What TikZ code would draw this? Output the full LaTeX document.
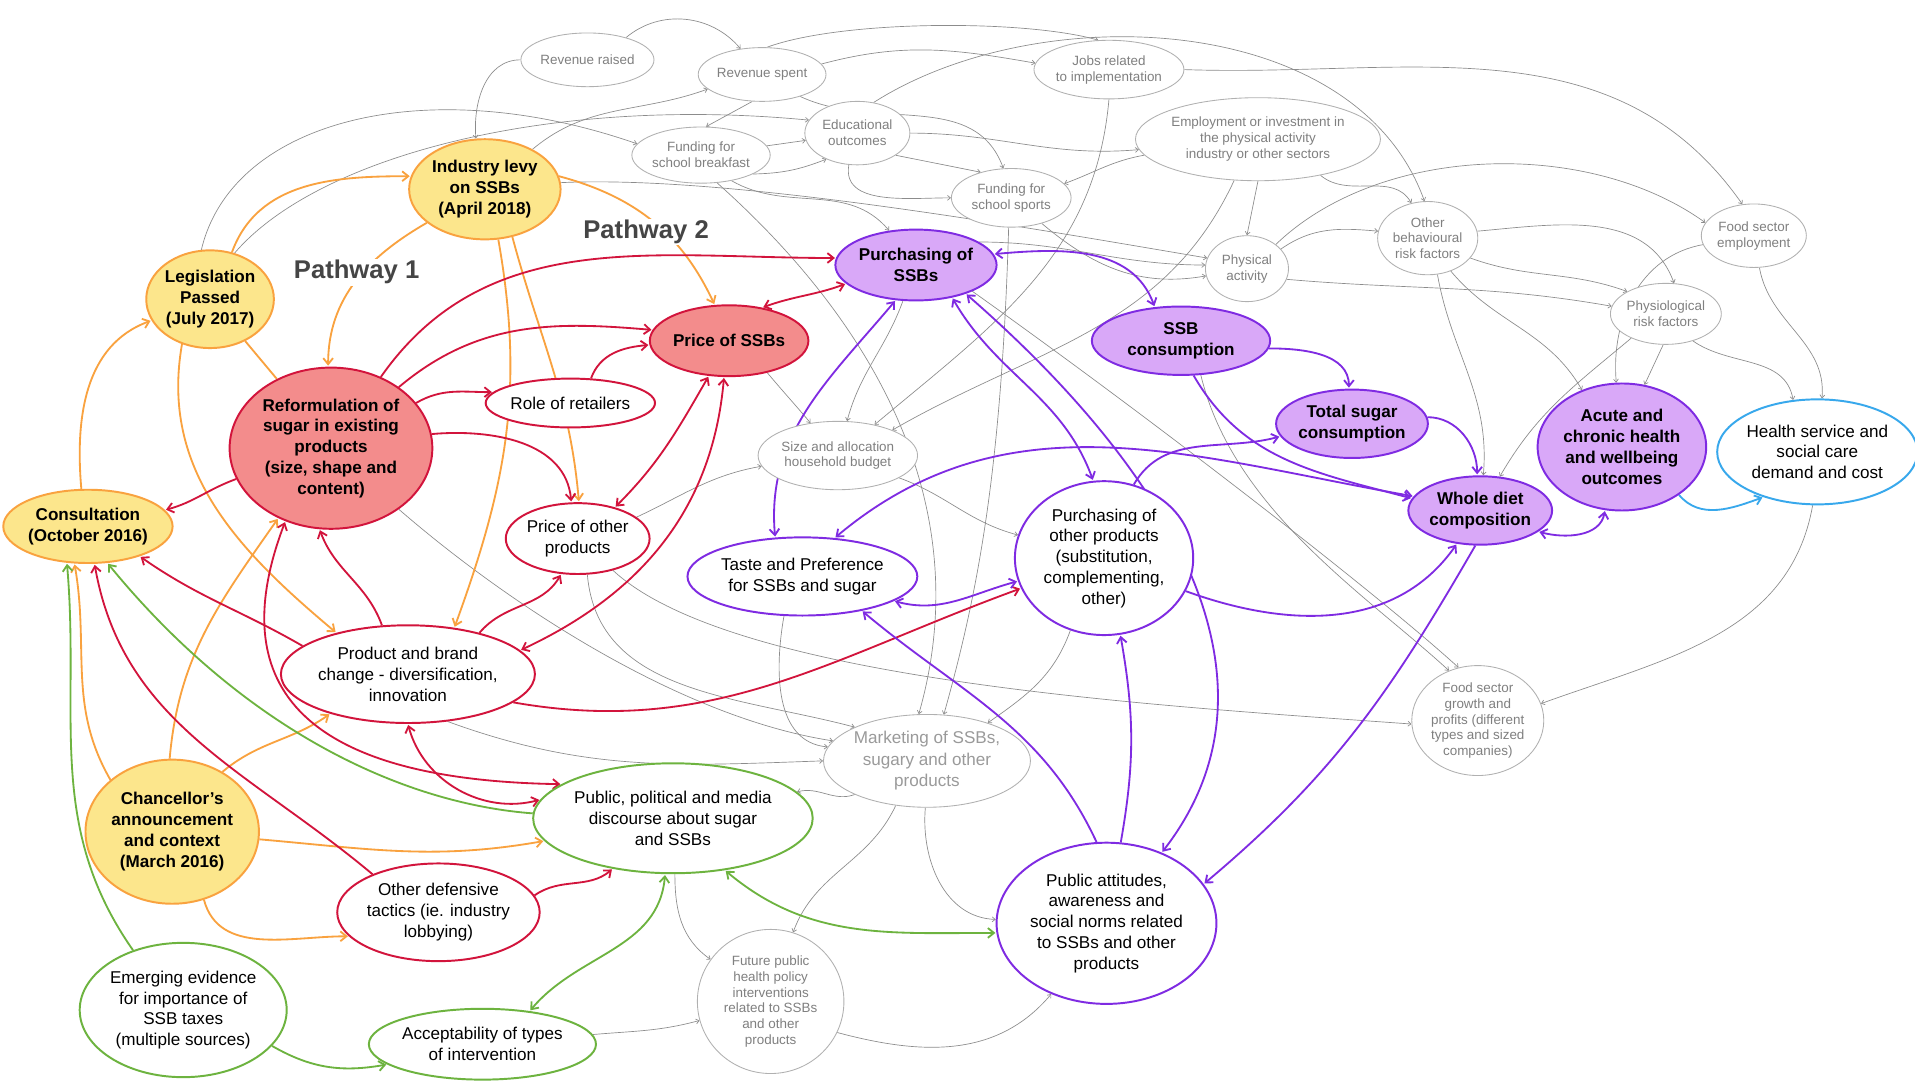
\documentclass[tikz,border=0pt]{standalone}
\usepackage{fontspec}
\setmainfont{Liberation Sans}
\usetikzlibrary{shapes.geometric,arrows.meta,backgrounds}

\definecolor{levyyellow}{HTML}{FCE68C}
\definecolor{levyorange}{HTML}{F9A23F}
\definecolor{reformred}{HTML}{F38C8C}
\definecolor{crimson}{HTML}{D2143C}
\definecolor{lilac}{HTML}{D9A8F8}
\definecolor{ssbpurple}{HTML}{7F2BE2}
\definecolor{leafgreen}{HTML}{6DB33F}
\definecolor{skyblue}{HTML}{38A8EC}
\definecolor{webgrey}{HTML}{8C8C8C}
\definecolor{ringgrey}{HTML}{B0B0B0}
\definecolor{minortext}{HTML}{808080}
\definecolor{pathgrey}{HTML}{454545}

\tikzset{
  dims/.style 2 args={minimum width=#1pt,minimum height=#2pt},
  factor/.style={ellipse,inner sep=0pt,align=center,line width=1.6pt,font=\fontsize{14}{17}\selectfont},
  keyfactor/.style={factor,font=\bfseries\fontsize{14}{17}\selectfont},
  policy/.style={keyfactor,draw=levyorange,fill=levyyellow},
  industry/.style={keyfactor,draw=crimson,fill=reformred},
  industryring/.style={factor,draw=crimson,fill=white},
  intake/.style={keyfactor,draw=ssbpurple,fill=lilac},
  intakering/.style={factor,draw=ssbpurple,fill=white},
  publicring/.style={factor,draw=leafgreen,fill=white},
  costring/.style={factor,draw=skyblue,fill=white},
  minor/.style={ellipse,inner sep=0pt,align=center,draw=ringgrey,fill=white,line width=0.7pt,text=minortext,font=\fontsize{11}{13}\selectfont},
  pathlabel/.style={fill=white,inner sep=1pt,text=pathgrey,font=\bfseries\fontsize{21}{25}\selectfont},
  barb/.style={-{Straight Barb[length=5pt,width=8pt]},shorten >=0.8pt},
  twobarb/.style={{Straight Barb[length=5pt,width=8pt]}-{Straight Barb[length=5pt,width=8pt]},shorten >=0.8pt,shorten <=0.8pt},
  orangelink/.style={draw=levyorange,line width=1.5pt},
  redlink/.style={draw=crimson,line width=1.5pt},
  purplelink/.style={draw=ssbpurple,line width=1.5pt},
  greenlink/.style={draw=leafgreen,line width=1.5pt},
  bluelink/.style={draw=skyblue,line width=1.5pt},
  greylink/.style={draw=webgrey,line width=0.55pt,-{Straight Barb[length=2.5pt,width=4pt]}}
}

\begin{document}
\begin{tikzpicture}[x=1pt,y=1pt]
\useasboundingbox (0,0) rectangle (1568,888);
% Drawing nodes
% policy side
\node[policy,dims={104}{80}] (legis) at (172,643) {Legislation\\Passed\\(July 2017)};
\node[policy,dims={124}{82}] (levy) at (397,733) {Industry levy\\on SSBs\\(April 2018)};
\node[policy,dims={130}{60}] (consult) at (72,457) {Consultation\\(October 2016)};
\node[policy,dims={142}{118}] (chancellor) at (141,207) {Chancellor's\\announcement\\and context\\(March 2016)};
% industry response
\node[industry,dims={166}{132}] (reform) at (271,521) {Reformulation of\\sugar in existing\\products\\(size, shape and\\content)};
\node[industryring,dims={128}{40}] (retail) at (467,558) {Role of retailers};
\node[industryring,dims={114}{58}] (priceother) at (473,447) {Price of other\\products};
\node[industryring,dims={194}{80}] (brand) at (334,336) {Product and brand\\change - diversification,\\innovation};
\node[industry,dims={126}{58}] (pricessb) at (597,609) {Price of SSBs};
\node[industryring,dims={160}{80}] (lobbying) at (359,141) {Other defensive\\tactics (ie. industry\\lobbying)};
% consumption and health
\node[intake,dims={130}{58}] (buyssb) at (750,671) {Purchasing of\\SSBs};
\node[intake,dims={146}{56}] (ssbcons) at (967,609) {SSB\\consumption};
\node[intake,dims={120}{56}] (sugar) at (1107,541) {Total sugar\\consumption};
\node[intake,dims={110}{56}] (diet) at (1212,470) {Whole diet\\composition};
\node[intake,dims={138}{104}] (health) at (1328,522) {Acute and\\chronic health\\and wellbeing\\outcomes};
\node[costring,dims={156}{86}] (nhs) at (1488,518) {Health service and\\social care\\demand and cost};
\node[intakering,dims={172}{64}] (taste) at (657,416) {Taste and Preference\\for SSBs and sugar};
\node[intakering,dims={146}{126}] (buyother) at (904,431) {Purchasing of\\other products\\(substitution,\\complementing,\\other)};
\node[intakering,dims={180}{132}] (attitudes) at (906,132) {Public attitudes,\\awareness and\\social norms related\\to SSBs and other\\products};
% public debate
\node[publicring,dims={210}{90}] (discourse) at (551,218) {Public, political and media\\discourse about sugar\\and SSBs};
\node[publicring,dims={166}{110}] (evidence) at (150,61) {Emerging evidence\\for importance of\\SSB taxes\\(multiple sources)};
\node[publicring,dims={170}{58}] (accept) at (395,33) {Acceptability of types\\of intervention};
% wider system
\node[minor,dims={98}{44}] (raised) at (481,839) {Revenue raised};
\node[minor,dims={88}{44}] (spent) at (624,827) {Revenue spent};
\node[minor,dims={110}{48}] (jobs) at (908,831) {Jobs related\\to implementation};
\node[minor,dims={96}{46}] (breakfast) at (574,761) {Funding for\\school breakfast};
\node[minor,dims={86}{52}] (education) at (702,779) {Educational\\outcomes};
\node[minor,dims={98}{48}] (sports) at (828,726) {Funding for\\school sports};
\node[minor,dims={178}{68}] (employ) at (1030,774) {Employment or investment in\\the physical activity\\industry or other sectors};
\node[minor,dims={68}{54}] (activity) at (1021,668) {Physical\\activity};
\node[minor,dims={82}{60}] (behaviour) at (1169,693) {Other\\behavioural\\risk factors};
\node[minor,dims={86}{52}] (foodjobs) at (1436,695) {Food sector\\employment};
\node[minor,dims={86}{50}] (physio) at (1364,631) {Physiological\\risk factors};
\node[minor,dims={100}{56}] (budget) at (686,515) {Size and allocation\\household budget};
\node[minor,dims={166}{76},text=minortext!80,font=\fontsize{14}{17.5}\selectfont] (marketing) at (759,265) {Marketing of SSBs,\\sugary and other\\products};
\node[minor,dims={106}{90}] (growth) at (1210,298) {Food sector\\growth and\\profits (different\\types and sized\\companies)};
\node[minor,dims={120}{118}] (future) at (631,68) {Future public\\health policy\\interventions\\related to SSBs\\and other\\products};
% Done with nodes; drawing links
\begin{scope}[on background layer]
\fill[white] (0,0) rectangle (1568,888);
% grey web
\draw[greylink] (raised.west) to[out=180,in=95] (levy.100);
\draw[greylink] (levy.40) to[out=40,in=200] (spent.195);
\draw[greylink] (raised.30) to[out=40,in=130] (spent.130);
\draw[greylink] (spent.80) .. controls (690,872) and (840,872) .. (jobs.110);
\draw[greylink] (spent.10) to[out=15,in=170] (jobs.175);
\draw[greylink] (spent.250) -- (breakfast.80);
\draw[greylink] (spent.330) to[out=-25,in=110] (sports.105);
\draw[greylink] (breakfast.8) -- (education.188);
\draw[greylink] (breakfast.340) to[bend right=10] (education.220);
\draw[greylink] (education.255) to[out=-100,in=180] (sports.180);
\draw[greylink] (education.330) -- (sports.140);
\draw[greylink] (education.62) .. controls (850,890) and (1110,880) .. (behaviour.95);
\draw[greylink] (education.0) to[out=0,in=185] (employ.185);
\draw[greylink] (legis.100) .. controls (190,790) and (350,830) .. (breakfast.170);
\draw[greylink] (legis.62) .. controls (260,760) and (450,810) .. (education.165);
\draw[greylink] (levy.5) .. controls (600,745) and (850,700) .. (activity.165);
\draw[greylink] (breakfast.320) to[out=-30,in=130] (buyssb.128);
\draw[greylink] (jobs.270) to[out=-95,in=40] (budget.40);
\draw[greylink] (jobs.east) to[out=-2,in=125] (foodjobs.110);
\draw[greylink] (activity.40) .. controls (1130,770) and (1300,775) .. (foodjobs.165);
\draw[greylink] (employ.330) to[out=-40,in=120] (behaviour.115);
\draw[greylink] (employ.270) -- (activity.90);
\draw[greylink] (employ.240) to[out=-115,in=30] (budget.25);
\draw[greylink] (employ.188) to[out=190,in=20] (sports.15);
\draw[greylink] (sports.320) to[out=-40,in=190] (activity.190);
\draw[greylink] (buyssb.20) to[out=0,in=180] (activity.175);
\draw[greylink] (activity.30) to[out=35,in=175] (behaviour.172);
\draw[greylink] (activity.345) to[out=-5,in=170] (physio.172);
\draw[greylink] (behaviour.335) to[out=-20,in=160] (physio.150);
\draw[greylink] (behaviour.8) to[out=5,in=110] (physio.75);
\draw[greylink] (foodjobs.190) to[out=190,in=95] (health.95);
\draw[greylink] (foodjobs.280) to[out=-80,in=85] (nhs.85);
\draw[greylink] (physio.265) -- (health.70);
\draw[greylink] (physio.315) to[out=-35,in=100] (nhs.115);
\draw[greylink] (physio.215) to[out=220,in=60] (diet.60);
\draw[greylink] (behaviour.285) to[out=-80,in=85] (diet.85);
\draw[greylink] (behaviour.305) to[out=-50,in=120] (health.125);
\draw[greylink] (nhs.265) to[out=-100,in=20] (growth.15);
\draw[greylink] (budget.340) to[out=-20,in=165] (buyother.165);
\draw[greylink] (pricessb.320) to[out=-50,in=130] (budget.130);
\draw[greylink] (buyssb.250) to[out=-110,in=75] (budget.75);
\draw[greylink] (priceother.20) to[out=25,in=190] (budget.188);
\draw[greylink] (breakfast.300) .. controls (720,620) and (800,470) .. (marketing.100);
\draw[greylink] (sports.265) .. controls (820,500) and (800,400) .. (marketing.70);
\draw[greylink] (taste.245) to[out=-100,in=175] (marketing.172);
\draw[greylink] (buyother.245) to[out=-110,in=35] (marketing.32);
\draw[greylink] (marketing.235) to[out=-115,in=70] (future.72);
\draw[greylink] (marketing.268) to[out=-95,in=178] (attitudes.178);
\draw[greylink] (marketing.205) to[out=200,in=15] (discourse.12);
\draw[greylink] (discourse.272) to[out=-90,in=145] (future.145);
\draw[greylink] (future.335) to[out=-15,in=230] (attitudes.232);
\draw[greylink] (accept.5) to[out=5,in=195] (future.195);
\draw[greylink] (reform.318) .. controls (420,390) and (560,300) .. (marketing.168);
\draw[greylink] (priceother.285) to[out=-85,in=165] (marketing.155);
\draw[greylink] (priceother.318) .. controls (600,330) and (950,310) .. (growth.183);
\draw[greylink] (brand.310) to[out=-20,in=182] (marketing.180);
\draw[greylink] (buyssb.335) .. controls (950,540) and (1130,400) .. (growth.110);
\draw[greylink] (ssbcons.300) .. controls (1010,470) and (1120,400) .. (growth.120);
% orange links
\draw[orangelink,barb] (consult.100) to[out=95,in=200] (legis.200);
\draw[orangelink,barb] (legis.65) to[out=70,in=180] (levy.170);
\draw[orangelink,barb] (levy.210) to[out=210,in=90] (reform.92);
\draw[orangelink,barb] (levy.10) to[out=-15,in=115] (pricessb.112);
\draw[orangelink,barb] (levy.285) to[out=-80,in=70] (brand.45);
\draw[orangelink,barb] (levy.300) to[out=-75,in=95] (priceother.88);
\draw[orangelink,barb] (legis.238) to[out=-100,in=140] (brand.150);
\draw[orangelink] (legis.310) -- (reform.128);
\draw[orangelink,barb] (chancellor.140) to[out=120,in=-80] (consult.250);
\draw[orangelink,barb] (chancellor.92) to[out=85,in=235] (reform.233);
\draw[orangelink,barb] (chancellor.50) to[out=40,in=215] (brand.207);
\draw[orangelink,barb] (chancellor.355) to[out=-5,in=190] (discourse.190);
\draw[orangelink,barb] (chancellor.295) to[out=-75,in=180] (lobbying.195);
% red links
\draw[redlink,barb] (reform.198) to[out=200,in=15] (consult.12);
\draw[redlink,barb] (reform.55) to[out=55,in=180] (buyssb.175);
\draw[redlink,barb] (reform.42) to[out=40,in=175] (pricessb.172);
\draw[redlink,barb] (retail.50) to[out=70,in=185] (pricessb.183);
\draw[redlink,barb] (reform.28) to[out=30,in=180] (retail.172);
\draw[redlink,barb] (reform.8) to[out=5,in=95] (priceother.100);
\draw[redlink,twobarb] (pricessb.45) to[out=20,in=200] (buyssb.195);
\draw[redlink,twobarb] (pricessb.240) to[out=240,in=45] (priceother.40);
\draw[redlink,twobarb] (pricessb.262) to[out=-95,in=25] (brand.12);
\draw[redlink,barb] (brand.30) to[out=50,in=240] (priceother.245);
\draw[redlink,barb] (brand.118) to[out=110,in=-70] (reform.262);
\draw[redlink,barb] (brand.165) to[out=150,in=-35] (consult.330);
\draw[redlink,twobarb] (reform.238) .. controls (195,360) and (205,250) .. (discourse.163);
\draw[redlink,twobarb] (brand.270) to[out=-75,in=195] (discourse.172);
\draw[redlink,barb] (lobbying.150) to[out=140,in=-80] (consult.280);
\draw[redlink,barb] (lobbying.10) to[out=35,in=220] (discourse.220);
\draw[redlink,barb] (brand.345) to[out=-10,in=200] (buyother.200);
% purple links
\draw[purplelink,twobarb] (buyssb.8) to[out=5,in=110] (ssbcons.128);
\draw[purplelink,barb] (ssbcons.355) to[out=0,in=90] (sugar.95);
\draw[purplelink,barb] (ssbcons.290) to[out=-60,in=165] (diet.170);
\draw[purplelink,barb] (sugar.5) to[out=0,in=90] (diet.95);
\draw[purplelink,twobarb] (diet.340) to[out=-15,in=-100] (health.255);
\draw[purplelink,twobarb] (buyssb.240) to[out=230,in=95] (taste.125);
\draw[purplelink,twobarb] (buyssb.318) to[out=-60,in=110] (buyother.98);
\draw[purplelink,twobarb] (buyssb.330) .. controls (960,500) and (1060,330) .. (attitudes.52);
\draw[purplelink,barb] (diet.262) to[out=240,in=40] (attitudes.22);
\draw[purplelink,barb] (buyother.338) to[out=-20,in=235] (diet.235);
\draw[purplelink,twobarb] (taste.50) to[out=40,in=170] (diet.168);
\draw[purplelink,barb] (buyother.68) to[out=60,in=195] (sugar.190);
\draw[purplelink,twobarb] (taste.345) to[out=-15,in=195] (buyother.195);
\draw[purplelink,barb] (attitudes.97) to[out=115,in=-40] (taste.330);
\draw[purplelink,barb] (attitudes.80) to[out=80,in=-80] (buyother.282);
% blue link
\draw[bluelink,barb] (health.320) to[out=-50,in=200] (nhs.220);
% green links
\draw[greenlink,twobarb] (discourse.315) to[out=-40,in=180] (attitudes.185);
\draw[greenlink,twobarb] (discourse.262) to[out=-95,in=50] (accept.35);
\draw[greenlink,barb] (evidence.130) to[out=125,in=-85] (consult.240);
\draw[greenlink,barb] (evidence.338) to[out=-30,in=190] (accept.192);
\draw[greenlink,barb] (discourse.178) .. controls (330,230) and (200,290) .. (consult.298);
\end{scope}
% Done with links; drawing pathway labels
\node[pathlabel] (pathone) at (292,665) {Pathway 1};
\node[pathlabel] (pathtwo) at (529,698) {Pathway 2};
\end{tikzpicture}
\end{document}
